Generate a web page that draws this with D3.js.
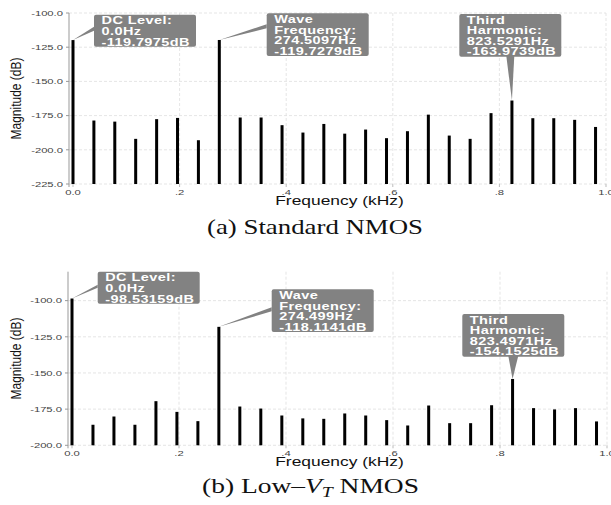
<!DOCTYPE html>
<html><head><meta charset="utf-8">
<script src="https://cdn.jsdelivr.net/npm/d3@7"></script>
<style>body{margin:0;background:#fff}svg{display:block}</style>
</head><body>
<script>
// ---- data ----
const freqKHz = [0, 0.0392, 0.0784, 0.1176, 0.1569, 0.1961, 0.2353, 0.2745, 0.3137, 0.3529, 0.3922, 0.4314, 0.4706,
  0.5098, 0.5490, 0.5882, 0.6275, 0.6667, 0.7059, 0.7451, 0.7843, 0.8235, 0.8627, 0.9020, 0.9412, 0.9804];
const magStandard = [-119.7975, -178.6, -179.4, -192.0, -177.6, -176.7, -193.0, -119.7279, -176.4, -176.4, -182.0, -187.4, -181.1,
  -188.2, -185.2, -191.5, -186.4, -174.3, -189.6, -192.0, -173.2, -163.9739, -176.9, -176.9, -178.1, -183.3];
const magLowVt = [-98.53159, -185.8, -180.1, -185.8, -169.5, -176.9, -183.3, -118.1141, -173.2, -174.6, -179.4, -181.4, -181.7,
  -178.0, -179.4, -182.6, -186.3, -172.5, -184.7, -184.7, -172.3, -154.1525, -174.3, -175.2, -174.3, -183.5];
const xTicks = [0, 0.2, 0.4, 0.6, 0.8, 1.0];
const xTickLabels = ["0.0", ".2", ".4", ".6", ".8", "1.0"];
const yTicksStandard = [-225, -200, -175, -150, -125, -100];
const yTicksLowVt = [-200, -175, -150, -125, -100];
const annStandardIdx = [0, 7, 21];
const annStandardText = [["DC Level:", "0.0Hz", "-119.7975dB"], ["Wave", "Frequency:", "274.5097Hz", "-119.7279dB"], ["Third", "Harmonic:", "823.5291Hz", "-163.9739dB"]];
const annLowVtIdx = [0, 7, 21];
const annLowVtText = [["DC Level:", "0.0Hz", "-98.53159dB"], ["Wave", "Frequency:", "274.499Hz", "-118.1141dB"], ["Third", "Harmonic:", "823.4971Hz", "-154.1525dB"]];

const svg = d3.select("body").append("svg").attr("width", 611).attr("height", 505);
const SX = 1.5;

function drawChart(cfg) {
  const g = svg.append("g");
  const x = d3.scaleLinear().domain([0, 1]).range([cfg.x0, cfg.x1]);
  const y = d3.scaleLinear().domain(cfg.domain).range([cfg.yBot, cfg.yTop]);
  // grid
  g.selectAll(".hg").data(cfg.yTicks).join("line")
    .attr("x1", cfg.axisX).attr("x2", cfg.x1).attr("y1", d => y(d)).attr("y2", d => y(d))
    .attr("stroke", "#dedede").attr("stroke-width", 0.8).attr("stroke-dasharray", "3,2");
  g.selectAll(".vg").data(xTicks.slice(1)).join("line")
    .attr("x1", d => x(d)).attr("x2", d => x(d)).attr("y1", cfg.yTop).attr("y2", cfg.yBot)
    .attr("stroke", "#dedede").attr("stroke-width", 0.8).attr("stroke-dasharray", "3,2");
  // y axis line + ticks
  g.append("line").attr("x1", cfg.axisX).attr("x2", cfg.axisX).attr("y1", cfg.yTop).attr("y2", cfg.yBot + 3)
    .attr("stroke", "#999").attr("stroke-width", 1);
  g.selectAll(".yt").data(cfg.yTicks).join("line")
    .attr("x1", cfg.axisX - 3).attr("x2", cfg.axisX).attr("y1", d => y(d)).attr("y2", d => y(d))
    .attr("stroke", "#999");
  g.selectAll(".yl").data(cfg.yTicks).join("text")
    .attr("transform", d => `translate(${cfg.axisX - 6},${y(d) + 2.8}) scale(${SX},1)`)
    .attr("text-anchor", "end").attr("font-family", "Liberation Sans, Arial, sans-serif")
    .attr("font-size", 7.5).attr("fill", "#444").text(d => d.toFixed(1));
  // x ticks
  g.selectAll(".xt").data(xTicks).join("line")
    .attr("x1", d => x(d)).attr("x2", d => x(d)).attr("y1", cfg.yBot).attr("y2", cfg.yBot + 3)
    .attr("stroke", "#bbb");
  g.selectAll(".xl").data(xTicks).join("text")
    .attr("transform", (d, i) => `translate(${x(d)},${cfg.yBot + 11}) scale(${SX},1)`)
    .attr("text-anchor", "middle").attr("font-family", "Liberation Sans, Arial, sans-serif")
    .attr("font-size", 7.5).attr("fill", "#444").text((d, i) => xTickLabels[i]);
  // axis titles
  g.append("text").attr("transform", `translate(${cfg.x0 + (cfg.x1 - cfg.x0) * 0.5 + 0},${cfg.yBot + 21}) scale(1.45,1)`)
    .attr("text-anchor", "middle").attr("font-family", "Liberation Sans, Arial, sans-serif")
    .attr("font-size", 12).attr("fill", "#111").text("Frequency (kHz)");
  g.append("text").attr("transform", `translate(21,${(cfg.yTop + cfg.yBot) / 2}) scale(1.25,1) rotate(-90)`)
    .attr("text-anchor", "middle").attr("font-family", "Liberation Sans Narrow, Liberation Sans, Arial, sans-serif")
    .attr("font-size", 12).attr("fill", "#111").text("Magnitude (dB)");
  // bars
  g.selectAll(".bar").data(cfg.vals).join("rect")
    .attr("x", (d, i) => x(freqKHz[i]) - 1.5).attr("width", 3)
    .attr("y", d => y(d)).attr("height", d => cfg.yBot - y(d)).attr("fill", "#000");
  // annotations
  cfg.annIdx.forEach((idx, k) => {
    const lines = cfg.annText[k];
    const b = cfg.boxes[k];
    const w = 102, h = lines.length === 3 ? 32 : 42.7;
    const px = x(freqKHz[idx]), py = y(cfg.vals[idx]);
    let pts;
    if (b.side === "left") pts = [[px, py], [b.x, b.y + b.p0], [b.x, b.y + b.p1]];
    else pts = [[px, py], [b.x + b.p0, b.y + h - 1], [b.x + b.p1, b.y + h - 1]];
    g.append("polygon").attr("points", pts.map(p => p.join(",")).join(" ")).attr("fill", "#828282");
    g.append("rect").attr("x", b.x).attr("y", b.y).attr("width", w).attr("height", h).attr("rx", 2)
      .attr("fill", "#828282");
    lines.forEach((t, j) => {
      g.append("text").attr("transform", `translate(${b.x + 7.5},${b.y + 9.6 + j * 10.6}) scale(1.45,1)`)
        .attr("font-family", "Liberation Sans, Arial, sans-serif").attr("font-weight", "bold")
        .attr("font-size", 10).attr("fill", "#fff").attr("letter-spacing", 0.3).text(t);
    });
  });
}

drawChart({
  x0: 73, x1: 606, yTop: 13, yBot: 184, axisX: 69, domain: [-225, -100], yTicks: yTicksStandard,
  vals: magStandard, annIdx: annStandardIdx, annText: annStandardText,
  boxes: [{x: 94, y: 14.7, side: "left", p0: 12, p1: 16}, {x: 266.7, y: 13.3, side: "left", p0: 11, p1: 15},
          {x: 459.3, y: 14, side: "bottom", p0: 47, p1: 55}]
});
drawChart({
  x0: 72, x1: 607, yTop: 271.7, yBot: 445.3, axisX: 68, domain: [-200, -80], yTicks: yTicksLowVt,
  vals: magLowVt, annIdx: annLowVtIdx, annText: annLowVtText,
  boxes: [{x: 97.7, y: 271.7, side: "left", p0: 13, p1: 16}, {x: 271.7, y: 289.3, side: "left", p0: 18, p1: 22},
          {x: 462.3, y: 314, side: "bottom", p0: 46, p1: 56}]
});

// captions
const cap = svg.append("g").attr("font-family", "Liberation Serif, Times New Roman, serif").attr("font-size", 21).attr("fill", "#111");
cap.append("text").attr("x", 315).attr("y", 234).attr("text-anchor", "middle")
  .attr("textLength", 216).attr("lengthAdjust", "spacingAndGlyphs").text("(a) Standard NMOS");
const tb = cap.append("text").attr("x", 310.5).attr("y", 493).attr("text-anchor", "middle")
  .attr("textLength", 217).attr("lengthAdjust", "spacingAndGlyphs");
tb.append("tspan").text("(b) Low–");
tb.append("tspan").attr("font-style", "italic").text("V");
tb.append("tspan").attr("font-style", "italic").attr("font-size", 15).attr("dy", 4).text("T");
tb.append("tspan").attr("dy", -4).text(" NMOS");
</script>
</body></html>
